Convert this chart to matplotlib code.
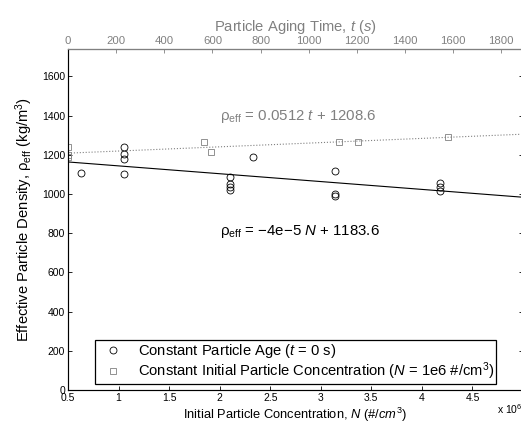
import numpy as np
import matplotlib
matplotlib.use("Agg")
from matplotlib import pyplot as plt

plt.rcParams['font.family'] = ['Liberation Sans', 'DejaVu Sans']
plt.rcParams['mathtext.fontset'] = 'custom'
plt.rcParams['mathtext.rm'] = 'Liberation Sans'
plt.rcParams['mathtext.it'] = 'Liberation Sans:italic'

# constant particle age (t = 0 s): N in units of 1e6 #/cm3
age_N = [0.63, 1.05, 1.05, 1.05, 1.05, 2.10, 2.10, 2.10, 2.10, 2.33,
         3.14, 3.14, 3.14, 4.18, 4.18, 4.18]
age_rho = [1107, 1240, 1203, 1181, 1103, 1086, 1051, 1034, 1020, 1188,
           1118, 1000, 991, 1056, 1034, 1013]

# constant initial concentration (N = 1e6): aging time in s
conc_t = [0, 0, 0, 563, 596, 1124, 1205, 1577]
conc_rho = [1240, 1200, 1188, 1267, 1216, 1264, 1264, 1291]

# linear fits (slope, intercept)
fit_N = (-4e-5, 1183.6)      # per #/cm3
fit_t = (0.0512, 1208.6)     # per s

xlim_N = (0.5, 5.0)
xlim_t = (0, 1890)
ylim = (0, 1740)

fig = plt.figure(figsize=(5.21, 4.26), dpi=100)
ax = fig.add_axes([68 / 521, 36 / 426, 455 / 521, 341 / 426])

gray = '#808080'

# bottom axis: concentration
ax.plot(age_N, age_rho, 'o', mfc='none', mec='black', ms=5, mew=0.6,
        label='Constant Particle Age ($\\mathit{t}$ = 0 s)')
xn = np.array(xlim_N)
ax.plot(xn, fit_N[0] * xn * 1e6 + fit_N[1], '-', color='black', lw=0.8)
ax.set_xlim(*xlim_N)
ax.set_ylim(*ylim)
ax.set_xticks(np.arange(0.5, 5.0, 0.5))
ax.set_xticklabels(['0.5', '1', '1.5', '2', '2.5', '3', '3.5', '4', '4.5'])
ax.set_yticks(np.arange(0, 1700, 200))
ax.tick_params(direction='in', labelsize=7.5, length=3, width=0.6,
               right=True, pad=2)
for s in ['left', 'bottom']:
    ax.spines[s].set_color('#555555')
ax.set_xlabel('Initial Particle Concentration, $\\mathit{N}$ $\\mathit{(\\#/cm^3)}$',
              fontsize=9.3, labelpad=2)
ax.set_ylabel('Effective Particle Density, $\\mathrm{ρ_{eff}}$ (kg/m$^3$)',
              fontsize=10.6, labelpad=5)

# top axis: aging time
ax2 = ax.twiny()
ax2.plot(conc_t, conc_rho, 's', mfc='none', mec=gray, ms=4, mew=0.6,
         label='Constant Initial Particle Concentration ($\\mathit{N}$ = 1e6 #/cm$^3$)')
xt = np.array(xlim_t)
ax2.plot(xt, fit_t[0] * xt + fit_t[1], ':', color=gray, lw=0.8)
ax2.set_xlim(*xlim_t)
ax2.set_xticks(np.arange(0, 1801, 200))
ax2.tick_params(direction='in', labelsize=8.2, length=3, width=0.6,
                colors=gray, pad=2)
for s in ['top', 'right']:
    ax2.spines[s].set_color(gray)
ax2.set_xlabel('Particle Aging Time, $\\mathit{t}$ $\\mathit{(s)}$',
               fontsize=10.6, color=gray, labelpad=4)

ax.text(2.0, 1395, '$\\mathrm{ρ_{eff}}$ = 0.0512 $\\mathit{t}$ + 1208.6',
        color=gray, fontsize=10.8, va='center')
ax.text(2.0, 810, '$\\mathrm{ρ_{eff}}$ = −4e−5 $\\mathit{N}$ + 1183.6',
        color='black', fontsize=10.8, va='center')

h1, l1 = ax.get_legend_handles_labels()
h2, l2 = ax2.get_legend_handles_labels()
leg = ax2.legend(h1 + h2, l1 + l2, loc='lower left',
                 bbox_to_anchor=(0.059, 0.018), borderaxespad=0,
                 fontsize=10.6, fancybox=False, framealpha=1,
                 handlelength=2.2, handletextpad=0.6, borderpad=0.12,
                 labelspacing=0.05)
leg.get_frame().set_edgecolor('black')
leg.get_frame().set_linewidth(0.9)

fig.text(497 / 521, 1 - 409 / 426, 'x 10$^6$', fontsize=7.5, va='center')

fig.savefig('out.png', dpi=100)
